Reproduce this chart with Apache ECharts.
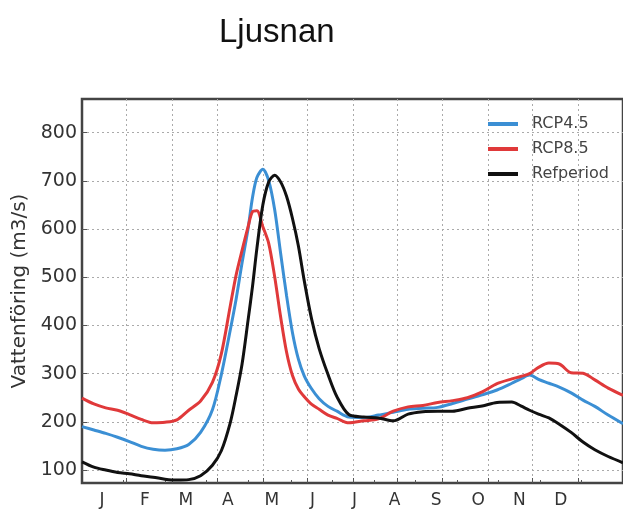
<!DOCTYPE html>
<html>
<head>
<meta charset="utf-8">
<script src="https://cdn.jsdelivr.net/npm/echarts@6/dist/echarts.min.js"></script>
<style>
  html, body { margin: 0; padding: 0; background: #fff; }
  #chart { width: 623px; height: 510px; }
</style>
</head>
<body>
<div id="chart"></div>
<script>
// day of year for each sample
var days = [0, 8, 16, 24, 32, 40, 48, 56, 64, 72, 80, 88, 94, 100, 104, 108, 112, 115, 118, 122,
    126, 130, 134, 138, 142, 146, 150, 155, 160, 166, 172, 180, 190, 200, 210, 220, 230, 240, 250,
    260, 270, 280, 290, 296, 302, 308, 315, 322, 330, 338, 346, 355, 365];

var rcp45 = [190, 183, 176, 168, 159, 149, 143, 141, 144, 153, 178, 225, 298, 390, 455, 530, 600, 665, 707, 724,
    700, 640, 550, 462, 385, 330, 295, 268, 248, 232, 222, 210, 209, 214, 220, 226, 228, 230, 238,
    247, 256, 266, 280, 289, 297, 288, 280, 272, 260, 245, 232, 214, 196];

var rcp85 = [249, 237, 229, 224, 215, 205, 198, 199, 204, 224, 243, 282, 341, 440, 505, 556, 604, 636, 638, 605,
    570, 501, 418, 345, 296, 268, 252, 236, 226, 214, 207, 198, 202, 206, 222, 231, 234, 240, 244,
    250, 262, 279, 289, 294, 300, 313, 322, 320, 302, 301, 287, 270, 255];

var refperiod = [117, 106, 100, 95, 92, 88, 85, 81, 79, 80, 88, 110, 140, 198, 255, 320, 410, 480, 560, 650,
    698, 712, 698, 668, 622, 565, 492, 412, 352, 298, 252, 215, 210, 208, 202, 216, 221, 222, 222,
    228, 233, 240, 241, 233, 224, 216, 208, 195, 178, 158, 142, 128, 115];

var gridDays = [30, 61, 91, 122, 152, 183, 213, 243, 274, 304, 335];
var monthLabels = ['J', 'F', 'M', 'A', 'M', 'J', 'J', 'A', 'S', 'O', 'N', 'D'];
var monthLabelDays = [13.5, 42.4, 70, 98.3, 128, 155.6, 183.8, 210.8, 239, 267.3, 295, 323];
var minorTickDays = [27.6, 56, 84, 112, 141, 169, 197, 225, 253, 281, 309, 337];
var yTicks = [100, 200, 300, 400, 500, 600, 700, 800];

function pairs(vals) {
    return days.map(function (d, i) { return [d, vals[i]]; });
}

var lineSeries = function (name, vals, color) {
    return {
        name: name,
        type: 'line',
        data: pairs(vals),
        smooth: 0.3,
        showSymbol: false,
        lineStyle: { color: color, width: 3 },
        itemStyle: { color: color }
    };
};

var option = {
    animation: false,
    title: {
        text: 'Ljusnan',
        left: 214,
        top: 11,
        textStyle: { fontFamily: 'Liberation Sans', fontSize: 33, fontWeight: 'normal', color: '#111' }
    },
    legend: {
        orient: 'vertical',
        left: 488,
        top: 116,
        padding: 0,
        itemWidth: 30,
        itemHeight: 4,
        itemGap: 9,
        icon: 'rect',
        textStyle: { fontFamily: 'DejaVu Sans', fontSize: 16, color: '#444', padding: [0, 0, 0, 9] },
        data: ['RCP4.5', 'RCP8.5', 'Refperiod']
    },
    grid: {
        left: 82,
        top: 99,
        right: -1,
        bottom: 27,
        show: true,
        borderColor: '#444',
        borderWidth: 2.5
    },
    xAxis: [
        {
            type: 'value',
            min: 0,
            max: 365,
            axisLine: { show: false },
            axisTick: { show: true, inside: true, length: 5, customValues: gridDays, lineStyle: { color: '#555' } },
            axisLabel: { show: false },
            splitLine: { show: true, lineStyle: { color: '#aaa', type: [2, 3], width: 1 } }
        },
        {
            type: 'value',
            min: 0,
            max: 365,
            position: 'bottom',
            axisLine: { show: false },
            axisTick: { show: true, inside: true, length: 3, customValues: minorTickDays, lineStyle: { color: '#555' } },
            axisLabel: {
                customValues: monthLabelDays,
                margin: 9,
                fontFamily: 'DejaVu Sans',
                fontSize: 17,
                color: '#333',
                formatter: function (v) {
                    var i = monthLabelDays.indexOf(v);
                    return i >= 0 ? monthLabels[i] : '';
                }
            },
            splitLine: { show: false }
        }
    ],
    yAxis: {
        type: 'value',
        min: 73,
        max: 870,
        name: 'Vattenföring (m3/s)',
        nameLocation: 'middle',
        nameGap: 51,
        nameTextStyle: { fontFamily: 'DejaVu Sans', fontSize: 20, color: '#333' },
        axisLine: { show: false },
        axisTick: { show: true, inside: true, length: 5, customValues: yTicks, lineStyle: { color: '#555' } },
        axisLabel: { customValues: yTicks, margin: 5, fontFamily: 'DejaVu Sans', fontSize: 19, color: '#333' },
        splitLine: { show: true, lineStyle: { color: '#aaa', type: [2, 3], width: 1 } }
    },
    series: [
        lineSeries('RCP4.5', rcp45, '#3b8fd4'),
        lineSeries('RCP8.5', rcp85, '#e0393a'),
        lineSeries('Refperiod', refperiod, '#111111')
    ]
};

var chart = echarts.init(document.getElementById('chart'));
chart.setOption(option);
</script>
</body>
</html>
